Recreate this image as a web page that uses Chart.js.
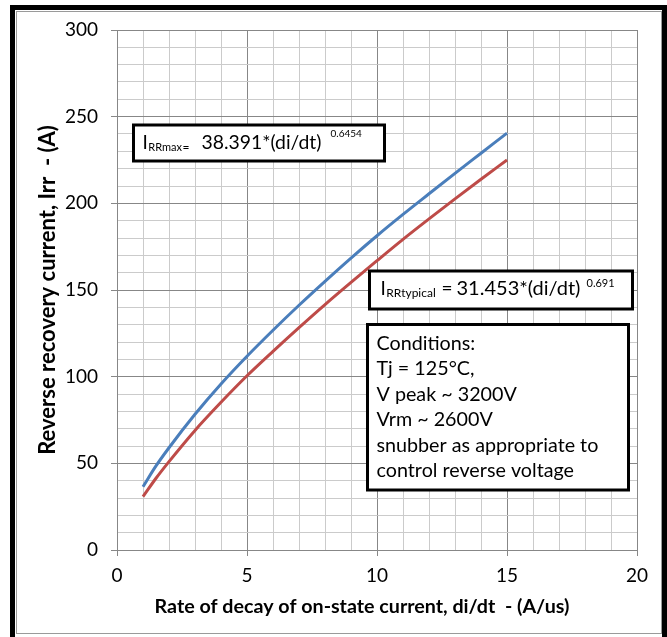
<!DOCTYPE html>
<html>
<head>
<meta charset="utf-8">
<script src="https://cdn.jsdelivr.net/npm/chart.js@4.4.0/dist/chart.umd.min.js"></script>
<style>
  html, body { margin: 0; padding: 0; background: #fff; overflow: hidden; }
  #frame { position: absolute; left: 10px; top: 5px; width: 647px; height: 640px; border: 5px solid #000; border-bottom: none; }
  #inner { position: absolute; left: 16px; top: 11px; width: 644px; height: 621px; border: 1px solid #9a9a9a; }
  #wrap { position: absolute; left: 0; top: 0; width: 667px; height: 637px; }
</style>
</head>
<body>
<div id="frame"></div>
<div id="inner"></div>
<div id="wrap"><canvas id="irrChart" width="667" height="637"></canvas></div>
<script>
// values
const didt = [1, 1.5, 2, 3, 4, 5, 6, 7, 8, 9, 10, 11, 12, 13, 14, 15];
const irrMax = [36.5, 48.5, 59, 78.3, 95.8, 111.8, 126.8, 141.2, 155, 168.4, 181.3, 193.6, 205.5, 217.3, 228.9, 240.5];
const irrTypical = [30.8, 41.4, 51, 69, 85.2, 100.5, 114.6, 128.3, 141.6, 154.4, 166.9, 179.2, 191, 202.6, 213.9, 225];
const xTickLabels = [0, 5, 10, 15, 20];
const yTickLabels = [0, 50, 100, 150, 200, 250, 300];

const conditions = [
  "Conditions:",
  "Tj = 125°C,",
  "V peak ~ 3200V",
  "Vrm ~ 2600V",
  "snubber as appropriate to",
  "control reverse voltage"
];

const FONT = "Lato";
const MAJOR = "#878787";
const MINOR = "#cbcbcb";

function toPoints(xs, ys) {
  return xs.map((x, i) => ({ x: x, y: ys[i] }));
}

// font size that makes a text come out at the wanted width
function fitSize(ctx, text, weight, width) {
  ctx.font = weight + " 100px " + FONT;
  return 100 * width / ctx.measureText(text).width;
}

// draws pieces of a formula; a piece without x follows the one before
function formula(ctx, parts, baseline) {
  let end = 0;
  parts.forEach(p => {
    const size = p.w ? fitSize(ctx, p.t, "", p.w) : p.size;
    ctx.font = size + "px " + FONT;
    const x = p.x !== undefined ? p.x : end + (p.gap || 0);
    ctx.fillText(p.t, x, baseline + (p.dy || 0));
    end = x + ctx.measureText(p.t).width;
  });
}

function box(ctx, x, y, w, h) {
  ctx.fillStyle = "#fff";
  ctx.fillRect(x, y, w, h);
  ctx.lineWidth = 3;
  ctx.strokeStyle = "#000";
  ctx.strokeRect(x, y, w, h);
  ctx.fillStyle = "#000";
}

// boxes with the fitted formulas, the conditions and the axis titles
const notes = {
  id: "notes",
  afterDraw(chart) {
    const ctx = chart.ctx;
    ctx.save();
    ctx.textBaseline = "alphabetic";
    ctx.textAlign = "left";

    box(ctx, 133.5, 125, 251, 36);
    formula(ctx, [
      { t: "I", size: 19, x: 142.5 },
      { t: "RRmax", size: 11, gap: 0.5, dy: 2.5 },
      { t: "=", size: 12, gap: 0.5, dy: 2.5 },
      { t: "38.391*(di/dt)", w: 120, x: 201.5 },
      { t: "0.6454", size: 10, x: 330.5, dy: -11.5 }
    ], 148.5);

    box(ctx, 369.5, 271, 263, 38);
    formula(ctx, [
      { t: "I", size: 19, x: 380.5 },
      { t: "RRtypical", size: 12, gap: 0.5, dy: 2 },
      { t: "=", size: 19, x: 441.5 },
      { t: "31.453*(di/dt)", w: 124, x: 456.5 },
      { t: "0.691", size: 11, x: 586.5, dy: -8 }
    ], 295);

    box(ctx, 367.5, 324.5, 261, 165.5);
    const condSize = fitSize(ctx, conditions[4], "", 222);
    ctx.font = condSize + "px " + FONT;
    conditions.forEach((line, i) => {
      ctx.fillText(line, 376.5, 349.5 + i * 25.5);
    });

    const xTitle = "Rate of decay of on-state current, di/dt  - (A/us)";
    ctx.font = "bold " + fitSize(ctx, xTitle, "bold", 415) + "px " + FONT;
    ctx.textAlign = "center";
    ctx.textBaseline = "middle";
    ctx.fillText(xTitle, 362, 607);

    const yTitle = "Reverse recovery current, Irr  - (A)";
    ctx.translate(48, 290);
    ctx.rotate(-Math.PI / 2);
    ctx.font = "bold " + fitSize(ctx, yTitle, "bold", 330) + "px " + FONT;
    ctx.fillText(yTitle, 0, 0);
    ctx.restore();
  }
};

new Chart(document.getElementById("irrChart"), {
  type: "line",
  data: {
    datasets: [
      {
        label: "IRRmax",
        data: toPoints(didt, irrMax),
        borderColor: "#4a7ebb",
        borderWidth: 3,
        pointRadius: 0,
        cubicInterpolationMode: "monotone",
        fill: false
      },
      {
        label: "IRRtypical",
        data: toPoints(didt, irrTypical),
        borderColor: "#be4b48",
        borderWidth: 3,
        pointRadius: 0,
        cubicInterpolationMode: "monotone",
        fill: false
      }
    ]
  },
  options: {
    responsive: false,
    animation: false,
    events: [],
    layout: { padding: { left: 0, top: 30, right: 30, bottom: 0 } },
    plugins: { legend: { display: false }, tooltip: { enabled: false } },
    scales: {
      x: {
        type: "linear",
        min: 0,
        max: 20,
        afterFit: s => { s.height = 87; },
        ticks: {
          stepSize: 1,
          autoSkip: false,
          maxRotation: 0,
          padding: 8,
          color: "#000",
          font: { family: FONT, size: 19 },
          callback: v => xTickLabels.includes(v) ? String(v) : ""
        },
        grid: {
          color: c => (c.tick && c.tick.value % 5 === 0) ? MAJOR : MINOR,
          tickColor: c => (c.tick && c.tick.value % 5 === 0) ? MAJOR : "rgba(0,0,0,0)",
          tickLength: 6,
          lineWidth: 1
        },
        border: { color: MAJOR }
      },
      y: {
        min: 0,
        max: 300,
        afterFit: s => { s.width = 117; },
        ticks: {
          stepSize: 10,
          autoSkip: false,
          padding: 13,
          color: "#000",
          font: { family: FONT, size: 19 },
          callback: v => yTickLabels.includes(v) ? String(v) : ""
        },
        grid: {
          color: c => (c.tick && c.tick.value % 50 === 0) ? MAJOR : MINOR,
          tickColor: c => (c.tick && c.tick.value % 50 === 0) ? MAJOR : "rgba(0,0,0,0)",
          tickLength: 6,
          lineWidth: 1
        },
        border: { color: MAJOR }
      }
    }
  },
  plugins: [notes]
});
</script>
</body>
</html>
